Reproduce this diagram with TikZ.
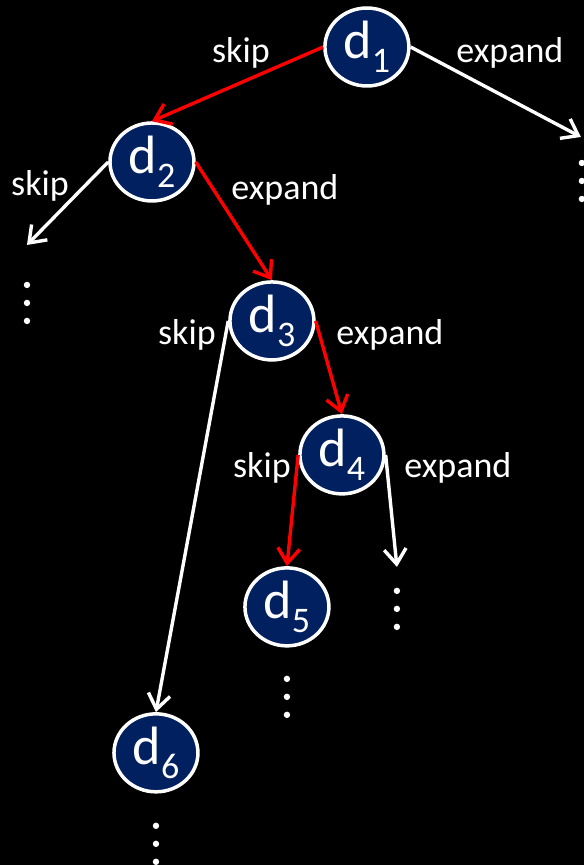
\documentclass[tikz,border=0pt]{standalone}
\usepackage{fontspec}
\setmainfont{Carlito}
\usetikzlibrary{shapes.geometric,arrows.meta}
\definecolor{navy}{HTML}{002060}
\newcommand{\dlab}[1]{d\raisebox{-0.26em}{\fontsize{36}{36}\selectfont #1}}
\begin{document}
\begin{tikzpicture}[x=1pt,y=-1pt,
  doc/.style={ellipse, draw=white, line width=3.5pt, fill=navy, text=white,
    minimum width=84pt, minimum height=78pt, inner sep=0pt,
    font=\fontsize{54}{54}\selectfont},
  lab/.style={text=white, anchor=base, font=\fontsize{36}{36}\selectfont},
  edge/.style={line width=3.4pt, -{Straight Barb[length=15pt,width=22pt]}}]
\fill[black] (0,0) rectangle (584,865);
\node[doc] (d1) at (367,47) {\dlab{1}};
\node[doc] (d2) at (152,162) {\dlab{2}};
\node[doc] (d3) at (272,321) {\dlab{3}};
\node[doc] (d4) at (342,455) {\dlab{4}};
\node[doc] (d5) at (287,607) {\dlab{5}};
\node[doc] (d6) at (156,753) {\dlab{6}};
\coordinate (e1) at (581,137);
\coordinate (s2) at (27,245);
\coordinate (e4) at (397,567);
% path that was followed
\draw[edge,red] (d1.west) -- (d2.north);
\draw[edge,red] (d2.east) -- (d3.north);
\draw[edge,red] (d3.east) -- (d4.north);
\draw[edge,red] (d4.west) -- (d5.north);
% the other branches
\draw[edge,white] (d1.east) -- (e1);
\draw[edge,white] (d2.west) -- (s2);
\draw[edge,white] (d3.west) -- (d6.north);
\draw[edge,white] (d4.east) -- (e4);
\node[lab] (k1) at (241,63) {skip};
\node[lab] (x1) at (510,63) {expand};
\node[lab] (k2) at (40,196) {skip};
\node[lab] (x2) at (285,200) {expand};
\node[lab] (k3) at (187,345) {skip};
\node[lab] (x3) at (390,345) {expand};
\node[lab] (k4) at (262,478) {skip};
\node[lab] (x4) at (458,478) {expand};
% dots below the open ends
\foreach \x/\y in {582/163, 27/285, 397/591, 287/679, 156/826}
  \foreach \k in {0,1,2}
    \fill[white] (\x,\y+18*\k) circle (3.2pt);
\end{tikzpicture}
\end{document}
